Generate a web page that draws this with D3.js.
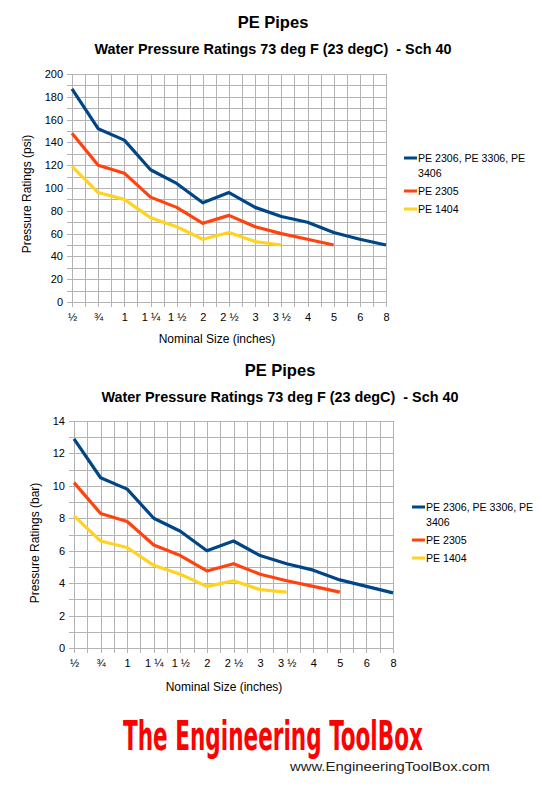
<!DOCTYPE html>
<html>
<head>
<meta charset="utf-8">
<script src="https://cdn.jsdelivr.net/npm/d3@7"></script>
<style>
  body { margin: 0; background: #fff; }
  svg { display: block; font-family: "Liberation Sans", Arial, sans-serif; }
</style>
</head>
<body>
<div id="chart"></div>
<script>
// nominal pipe sizes (x categories)
var sizes = ["½", "¾", "1", "1 ¼", "1 ½", "2", "2 ½", "3", "3 ½", "4", "5", "6", "8"];

var seriesNames = ["PE 2306, PE 3306, PE 3406", "PE 2305", "PE 1404"];
var seriesColors = ["#004586", "#ff420e", "#ffd320"];

// pressure ratings in psi
var psi2306 = [187, 152, 142, 116, 104, 87, 96, 83, 75, 70, 61, 55, 50];
var psi2305 = [148, 120, 113, 92, 83, 69, 76, 66, 60, 55, 50];
var psi1404 = [119, 96, 90, 74, 66, 55, 61, 53, 50];

// pressure ratings in bar
var bar2306 = [12.9, 10.5, 9.8, 8.0, 7.2, 6.0, 6.6, 5.7, 5.2, 4.8, 4.2, 3.8, 3.4];
var bar2305 = [10.2, 8.3, 7.8, 6.35, 5.7, 4.75, 5.2, 4.55, 4.15, 3.8, 3.45];
var bar1404 = [8.15, 6.6, 6.2, 5.1, 4.55, 3.8, 4.15, 3.6, 3.45];

var psiTicks = d3.range(0, 201, 20);
var barTicks = d3.range(0, 15, 2);

var width = 542, height = 792;

var svg = d3.select("#chart").append("svg")
    .attr("width", width)
    .attr("height", height)
    .attr("viewBox", [0, 0, width, height]);

// squeeze a text horizontally so it spans w pixels
function fitText(t, x, y, w) {
  var len = t.node().getComputedTextLength();
  t.attr("transform", `translate(${x},${y}) scale(${w / len},1)`);
}

function drawChart(o) {
  var g = svg.append("g");

  var x = d3.scalePoint().domain(sizes).range([o.left, o.right]).padding(0);
  var y = d3.scaleLinear().domain([0, o.yMax]).range([o.bottom, o.top]);
  var step = x.step();

  // horizontal grid (minor + major)
  g.append("g")
    .selectAll("line")
    .data(d3.range(0, o.yMax + 1e-9, o.minor))
    .join("line")
      .attr("x1", o.left - 5).attr("x2", o.right)
      .attr("y1", d => Math.round(y(d)) + 0.5).attr("y2", d => Math.round(y(d)) + 0.5)
      .attr("stroke", "#b3b3b3");

  // vertical grid every half category
  var halfSteps = d3.range(0, sizes.length * 2 - 1);
  g.append("g")
    .selectAll("line")
    .data(halfSteps)
    .join("line")
      .attr("x1", d => Math.round(o.left + d * step / 2) + 0.5)
      .attr("x2", d => Math.round(o.left + d * step / 2) + 0.5)
      .attr("y1", o.top).attr("y2", o.bottom + 5)
      .attr("stroke", "#b3b3b3");

  // y axis labels
  var yAxis = d3.axisLeft(y).tickValues(o.ticks).tickSize(0).tickPadding(0);
  g.append("g")
    .attr("transform", `translate(${o.left - 9},0)`)
    .call(yAxis)
    .call(a => a.select(".domain").remove())
    .call(a => a.selectAll("text")
        .attr("font-family", "Liberation Sans, Arial, sans-serif")
        .attr("font-size", 11).attr("fill", "#000"));

  // x axis labels
  var xAxis = d3.axisBottom(x).tickSize(0).tickPadding(0);
  g.append("g")
    .attr("transform", `translate(0,${o.bottom + 11})`)
    .call(xAxis)
    .call(a => a.select(".domain").remove())
    .call(a => a.selectAll("text")
        .attr("font-family", "Liberation Sans, Arial, sans-serif")
        .attr("font-size", 11).attr("fill", "#000"));

  // lines
  var line = d3.line()
      .x((d, i) => x(sizes[i]))
      .y(d => y(d));

  o.series.forEach((s, k) => {
    g.append("path")
      .attr("d", line(s))
      .attr("fill", "none")
      .attr("stroke", seriesColors[k])
      .attr("stroke-width", 3.2)
      .attr("stroke-linejoin", "round");
  });

  // titles
  g.append("text")
    .attr("x", o.titleX).attr("y", o.titleY)
    .attr("text-anchor", "middle")
    .attr("font-weight", "bold").attr("font-size", 16.5)
    .text("PE Pipes");
  g.append("text")
    .attr("x", o.titleX).attr("y", o.titleY + 26)
    .attr("text-anchor", "middle")
    .attr("font-weight", "bold").attr("font-size", 14.4)
    .attr("xml:space", "preserve")
    .text("Water Pressure Ratings 73 deg F (23 degC)  - Sch 40");

  // axis titles
  g.append("text")
    .attr("x", o.xLabelX).attr("y", o.xLabelY)
    .attr("text-anchor", "middle").attr("font-size", 12)
    .text("Nominal Size (inches)");
  g.append("text")
    .attr("transform", `translate(${o.yLabelX},${o.yLabelY}) rotate(-90)`)
    .attr("text-anchor", "middle").attr("font-size", 12)
    .text(o.yLabel);

  // legend
  var leg = g.append("g").attr("transform", `translate(${o.legX},${o.legY})`);
  var rows = [[seriesNames[0].slice(0, 20), "3406"], [seriesNames[1]], [seriesNames[2]]];
  var yy = 0;
  rows.forEach((r, k) => {
    leg.append("line")
      .attr("x1", 0).attr("x2", 13)
      .attr("y1", yy).attr("y2", yy)
      .attr("stroke", seriesColors[k]).attr("stroke-width", 3);
    r.forEach((t, j) => {
      leg.append("text")
        .attr("x", 14).attr("y", yy + j * 15 + 4)
        .attr("font-size", 10.6)
        .text(t);
    });
    yy += r.length * 15 + 3;
  });
}

drawChart({
  left: 72, right: 386, top: 74, bottom: 302,
  yMax: 200, minor: 10, ticks: psiTicks,
  series: [psi2306, psi2305, psi1404],
  titleX: 273, titleY: 28,
  xLabelX: 217, xLabelY: 343,
  yLabel: "Pressure Ratings (psi)", yLabelX: 31, yLabelY: 194,
  legX: 404, legY: 158
});

drawChart({
  left: 74, right: 393, top: 421, bottom: 648,
  yMax: 14, minor: 1, ticks: barTicks,
  series: [bar2306, bar2305, bar1404],
  titleX: 280, titleY: 376,
  xLabelX: 224, xLabelY: 691,
  yLabel: "Pressure Ratings (bar)", yLabelX: 39, yLabelY: 543,
  legX: 412, legY: 507
});

// logo
var logo = svg.append("text")
  .attr("font-family", "DejaVu Sans Condensed, Liberation Sans Narrow, sans-serif")
  .attr("font-weight", "bold").attr("font-size", 41)
  .attr("fill", "#ff0000")
  .text("The Engineering ToolBox");
fitText(logo, 123, 750, 300);

var url = svg.append("text")
  .attr("font-size", 13).attr("fill", "#222")
  .text("www.EngineeringToolBox.com");
fitText(url, 290, 771, 200);
</script>
</body>
</html>
